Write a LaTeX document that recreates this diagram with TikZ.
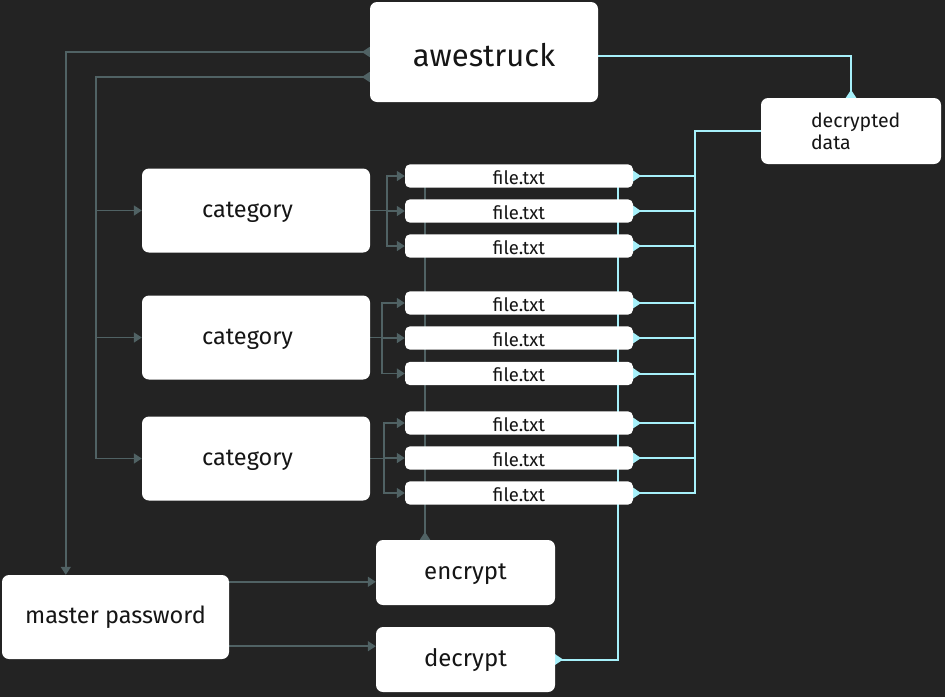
\documentclass[tikz,border=0pt]{standalone}
\usepackage{fontspec}
\setmainfont{Fira Sans}
\usetikzlibrary{arrows.meta,calc}
\pgfdeclarelayer{bgl}
\pgfdeclarelayer{lines}
\pgfsetlayers{bgl,lines,main}
\definecolor{bgc}{HTML}{232323}
\definecolor{gline}{HTML}{506264}
\definecolor{cline}{HTML}{A6F0FA}
\definecolor{txt}{HTML}{151515}
\tikzset{
  srcm/.tip={Triangle[reversed,length=8pt,width=10pt]},
  tipm/.tip={Triangle[length=8pt,width=10pt]},
  box/.style={fill=white, rounded corners=7pt, text=txt, inner sep=0pt},
  bigbox/.style={box, minimum width=228pt, minimum height=84pt, font=\fontsize{23.5}{28}\selectfont},
  catbox/.style={bigbox, text height=17pt, text depth=2.2pt},
  fbox/.style={box, rounded corners=5pt, minimum width=228pt, minimum height=23.3pt, text height=16.5pt, text depth=0pt, font=\fontsize{18.5}{22}\selectfont},
  opbox/.style={box, minimum width=179pt, minimum height=65pt, text height=15pt, text depth=1.5pt, font=\fontsize{24}{28}\selectfont},
  gl/.style={draw=gline, line width=1.5pt},
  cl/.style={draw=cline, line width=2pt},
}
\begin{document}
\begin{tikzpicture}[x=1pt,y=-1pt]
\begin{pgfonlayer}{bgl}
\fill[bgc] (0,0) rectangle (945,697);
\end{pgfonlayer}
\useasboundingbox (0,0) rectangle (945,697);

% nodes
\node[box, minimum width=228pt, minimum height=100pt, text height=28pt, text depth=0pt, font=\fontsize{31}{36}\selectfont] (aw) at (484,52) {awestruck};
\node[box, minimum width=180pt, minimum height=66pt, text width=80pt, align=left, font=\fontsize{19.5}{22}\selectfont] (dd) at (851,131) {decrypted\\data};
\node[catbox] (c1) at (256,210.5) {category\hspace*{17pt}};
\node[catbox] (c2) at (256,337.5) {category\hspace*{17pt}};
\node[catbox] (c3) at (256,458.5) {category\hspace*{17pt}};
\foreach \n/\y in {1/176,2/211,3/246,4/303,5/338,6/373.5,7/423,8/458,9/493}
  \node[fbox] (f\n) at (519,\y) {file.txt};
\node[opbox] (enc) at (465.5,572.5) {encrypt};
\node[opbox] (dec) at (465.5,659.5) {decrypt};
\node[bigbox, minimum width=227pt] (mp) at (115.5,617) {master password};

\coordinate (bus) at (695,0);
\coordinate (dv) at (618,0);
\coordinate (ev) at (425,0);

\begin{pgfonlayer}{lines}
% awestruck -> master password
\draw[gl, srcm-tipm] (aw.west) -| ($(mp.north west)+(64,0)$);
% awestruck -> categories
\draw[gl, srcm-tipm] ($(aw.west)+(0,25)$) -| ($(c3.west)+(-46,0)$) -- (c3.west);
\draw[gl, -tipm] ($(c1.west)+(-46,0)$) -- (c1.west);
\draw[gl, -tipm] ($(c2.west)+(-46,0)$) -- (c2.west);
% categories -> files
\draw[gl, -tipm] (c1.east) -- ++(17,0) |- (f1.west);
\draw[gl, -tipm] (c1.east) -- ++(17,0) |- (f2.west);
\draw[gl, -tipm] (c1.east) -- ++(17,0) |- (f3.west);
\draw[gl, -tipm] (c2.east) -- ++(12,0) |- (f4.west);
\draw[gl, -tipm] (c2.east) -- ++(12,0) |- (f5.west);
\draw[gl, -tipm] (c2.east) -- ++(12,0) |- (f6.west);
\draw[gl, -tipm] (c3.east) -- ++(14,0) |- (f7.west);
\draw[gl, -tipm] (c3.east) -- ++(14,0) |- (f8.west);
\draw[gl, -tipm] (c3.east) -- ++(14,0) |- (f9.west);
% encrypt -> files
\draw[gl, srcm-] (enc.north -| ev) -- (f1.center -| ev);
% master password -> encrypt / decrypt
\draw[gl, -tipm] ($(mp.north east)+(0,7)$) coordinate (m1) -- (m1 -| enc.west);
\draw[gl, -tipm] ($(mp.south east)+(0,-13)$) coordinate (m2) -- (m2 -| dec.west);
% files -> decrypted data
\foreach \n in {1,...,8}
  \draw[cl, srcm-] (f\n.east) -- (f\n.east -| bus);
\draw[cl, srcm-] (f9.east) -| (bus |- dd.west) -- (dd.west);
% decrypt -> files
\draw[cl, srcm-] (dec.east) -| (f1.center -| dv);
% decrypted data -> awestruck
\draw[cl, srcm-] (dd.north) |- ($(aw.east)+(0,4)$);
\end{pgfonlayer}
\end{tikzpicture}
\end{document}
